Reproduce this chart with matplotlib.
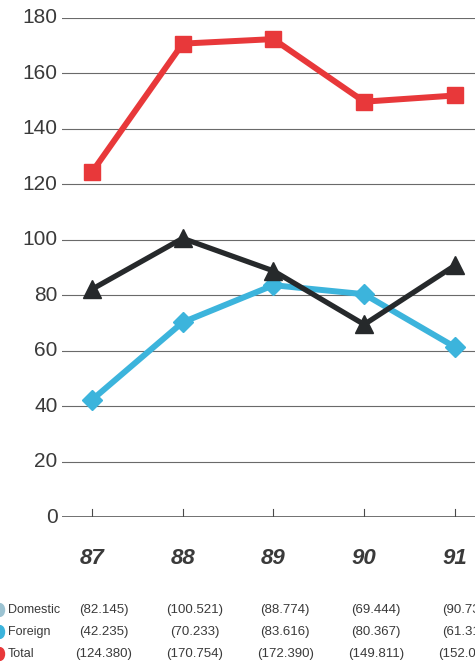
import matplotlib.pyplot as plt
from matplotlib.transforms import blended_transform_factory

# Yearly figures (domestic + foreign = total)
years = [87, 88, 89, 90, 91]
year_labels = ['87', '88', '89', '90', '91']
domestic = [82.145, 100.521, 88.774, 69.444, 90.735]
foreign = [42.235, 70.233, 83.616, 80.367, 61.310]
total = [124.380, 170.754, 172.390, 149.811, 152.045]
y_ticks = [0, 20, 40, 60, 80, 100, 120, 140, 160, 180]

red = '#e8383a'
dark = '#26292b'
blue = '#3cb4dc'
text_col = '#3a3a3a'

fig = plt.figure(figsize=(4.75, 6.69), dpi=100)
fig.patch.set_facecolor('white')
# axes run past the right edge of the page on purpose
ax = fig.add_axes([0.1305, 0.2272, 0.901, 0.7459])
ax.set_xlim(86.67, 91.386)
ax.set_ylim(0, 180)

for v in y_ticks:
    ax.axhline(v, color='#4a4a4a' if v == 0 else '#6a6a6a',
               lw=1.1 if v == 0 else 0.8, zorder=1)

ax.plot(years, total, color=red, lw=4.3, marker='s', ms=11.5,
        mec=red, zorder=4, clip_on=False)
ax.plot(years, foreign, color=blue, lw=4.3, marker='D', ms=10,
        mec=blue, zorder=3, clip_on=False)
ax.plot(years, domestic, color=dark, lw=3.8, marker='^', ms=13,
        mec=dark, zorder=5, clip_on=False)

# small upward ticks on the base line
for x in years:
    ax.plot([x, x], [0, 3], color='#4a4a4a', lw=0.8, zorder=2)

for s in ax.spines.values():
    s.set_visible(False)
ax.set_xticks([])
ax.set_yticks([])

for v in y_ticks:
    ax.text(86.67 - 0.05, v, str(v), ha='right', va='center',
            fontsize=15, color=text_col, family='Liberation Sans')

trans = blended_transform_factory(ax.transData, fig.transFigure)
for x, lab in zip(years, year_labels):
    ax.text(x, 1 - 558 / 669, lab, transform=trans, ha='center', va='center',
            fontsize=16, fontweight='bold', fontstyle='italic',
            color=text_col, family='Liberation Sans')

# value table under the chart
rows = [('Domestic', domestic, '#9cc3d2', 610),
        ('Foreign', foreign, blue, 632),
        ('Total', total, red, 654)]
for name, vals, col, ypx in rows:
    yf = 1 - ypx / 669
    fig.text(8 / 475, yf, name, ha='left', va='center', fontsize=9,
             color=text_col, family='Liberation Sans')
    fig.patches.append(plt.Circle((0.0, yf), 4.5 / 475, color=col,
                                  transform=fig.transFigure, figure=fig))
    for x, v in zip(years, vals):
        ax.text(x + 0.13, yf, '(%.3f)' % v, transform=trans, ha='center',
                va='center', fontsize=9.5, color=text_col,
                family='Liberation Sans')

fig.savefig('out.png', dpi=100)
